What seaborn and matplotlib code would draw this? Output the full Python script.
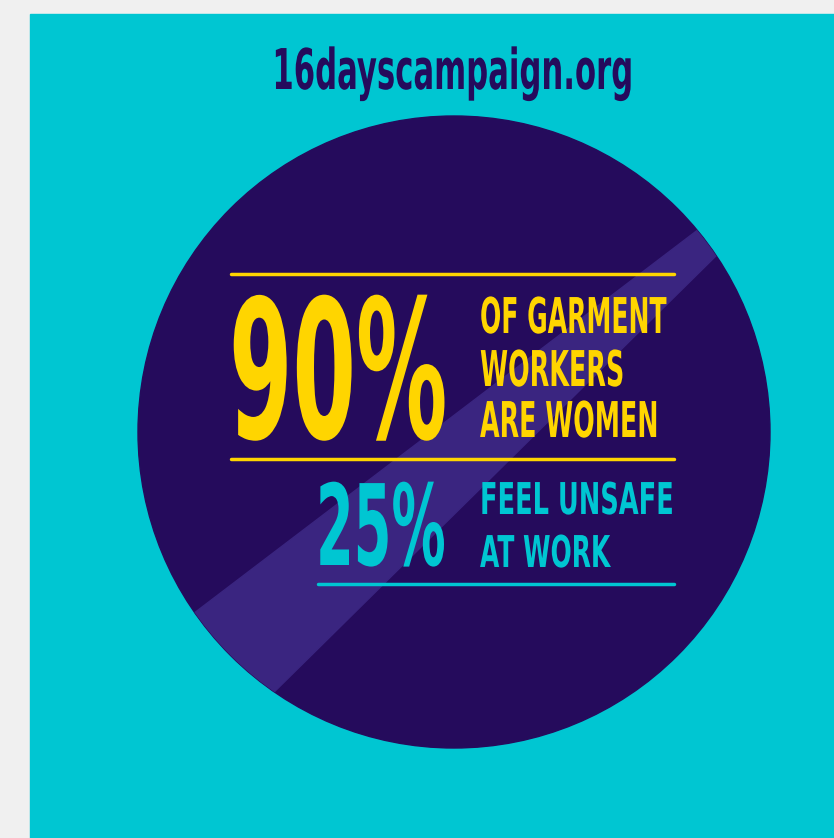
import matplotlib
matplotlib.use("Agg")
import matplotlib.pyplot as plt
import seaborn as sns
from matplotlib.patches import Circle, Polygon, Rectangle
from matplotlib.patheffects import AbstractPathEffect
from matplotlib.transforms import Affine2D

sns.set_theme(style="white")
plt.rcParams['font.family'] = ['DejaVu Sans']

# content
site = "16dayscampaign.org"
stat_values = ["90%", "25%"]
stat_captions = [["OF GARMENT", "WORKERS", "ARE WOMEN"], ["FEEL UNSAFE", "AT WORK"]]

gray = "#f0f0f0"
cyan = "#00c6d2"
navy = "#250b5c"
stripe = "#3a2580"
yellow = "#ffd500"


class Stretch(AbstractPathEffect):
    """Make glyphs taller around the baseline y0 (display px) - fakes a condensed face."""

    def __init__(self, sy, y0):
        super().__init__()
        self.sy = sy
        self.y0 = y0

    def draw_path(self, renderer, gc, tpath, affine, rgbFace=None):
        t = affine + Affine2D().translate(0, -self.y0).scale(1, self.sy).translate(0, self.y0)
        renderer.draw_path(gc, tpath, t, rgbFace)


fig = plt.figure(figsize=(8.34, 8.38), dpi=100, facecolor=gray)
ax = fig.add_axes([0, 0, 1, 1])
ax.set_xlim(0, 834)
ax.set_ylim(838, 0)
ax.axis("off")

# cyan panel
ax.add_patch(Rectangle((30, 14), 810, 830, color=cyan, zorder=0))

# big disc with a diagonal light stripe
disc = Circle((454, 432), 316, color=navy, zorder=1)
ax.add_patch(disc)
band = Polygon([(795, 156), (93, 690), (185, 780), (803, 170)],
               closed=True, color=stripe, zorder=2)
ax.add_patch(band)
band.set_clip_path(disc)

texts = []


def cap_text(s, x, baseline, cap_px, width_px, color, ha="left"):
    t = ax.text(x, baseline, s, fontsize=20, color=color, va="baseline", ha=ha,
                fontweight="bold", zorder=5)
    texts.append((t, x, baseline, cap_px, width_px))


cap_text(site, 453, 89, 41, 361, navy, ha="center")

# rules
ax.plot([231, 674], [274, 274], color=yellow, lw=2.5, zorder=4)
ax.plot([231, 674], [459, 459], color=yellow, lw=2.5, zorder=4)
ax.plot([318, 674], [584, 584], color=cyan, lw=2.5, zorder=4)

# first stat
cap_text(stat_values[0], 229, 438, 141, 218, yellow)
for line, base, w in zip(stat_captions[0], [333, 386, 437], [186, 144, 178]):
    cap_text(line, 480, base, 36, w, yellow)

# second stat
cap_text(stat_values[1], 316, 565, 82, 130, cyan)
for line, base, w in zip(stat_captions[1], [514, 567], [193, 130]):
    cap_text(line, 480, base, 32, w, cyan)

# size each text to its poster width, then stretch it up to the poster cap height
fig.canvas.draw()
renderer = fig.canvas.get_renderer()
for t, x, base, cap, w in texts:
    bb = t.get_window_extent(renderer)
    size = 20 * w / bb.width
    t.set_fontsize(size)
    cap_natural = 0.73 * size * 100 / 72
    y0 = ax.transData.transform((x, base))[1]
    t.set_path_effects([Stretch(cap / cap_natural, y0)])

fig.savefig("out.png", dpi=100, facecolor=gray)
